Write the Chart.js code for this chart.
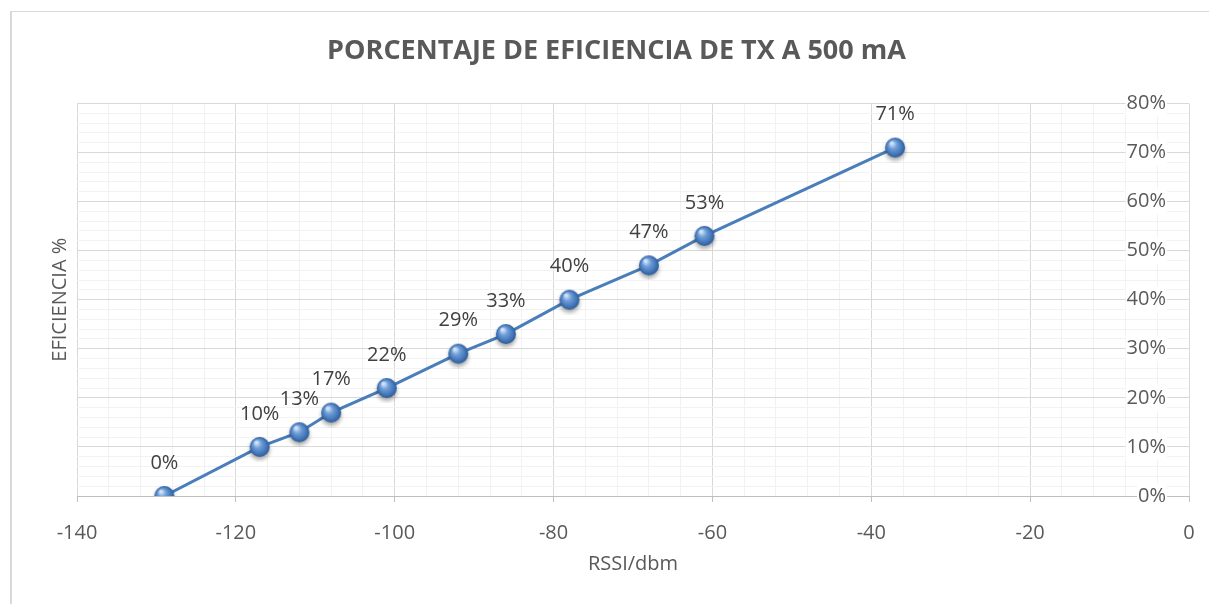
<!DOCTYPE html>
<html>
<head>
<meta charset="utf-8">
<script src="https://cdn.jsdelivr.net/npm/chart.js@4"></script>
<style>
  html, body { margin: 0; padding: 0; background: #fff; overflow: hidden; }
  #frame {
    position: absolute; left: 10px; top: 11px; width: 1300px; height: 700px;
    border-left: 2px solid #d9d9d9; border-top: 1px solid #d9d9d9;
  }
  #chart { position: absolute; left: 0; top: 0; }
</style>
</head>
<body>
<div id="frame"></div>
<canvas id="chart" width="1238" height="604"></canvas>
<script>
// data
const rssi = [-129, -117, -112, -108, -101, -92, -86, -78, -68, -61, -37];
const eficiencia = [0, 10, 13, 17, 22, 29, 33, 40, 47, 53, 71];
const xMajor = [-140, -120, -100, -80, -60, -40, -20, 0];
const yMajor = [0, 10, 20, 30, 40, 50, 60, 70, 80];

const GRAY = "#595959";
const FONT = { family: "'Open Sans', sans-serif", size: 20 };

// shiny blue ball used as the marker
function makeSphere(r) {
    const size = r * 2 + 10;
    const c = document.createElement("canvas");
    c.width = size;
    c.height = size;
    const g = c.getContext("2d");
    const cx = size / 2;
    const cy = size / 2;
    g.save();
    g.shadowColor = "rgba(0,0,0,0.35)";
    g.shadowBlur = 4;
    g.shadowOffsetY = 3;
    const grad = g.createRadialGradient(cx - r * 0.35, cy - r * 0.45, r * 0.1, cx, cy, r);
    grad.addColorStop(0, "#d2e4f8");
    grad.addColorStop(0.35, "#6f9ed8");
    grad.addColorStop(0.8, "#3f72b5");
    grad.addColorStop(1, "#2b5a94");
    g.fillStyle = grad;
    g.beginPath();
    g.arc(cx, cy, r, 0, Math.PI * 2);
    g.fill();
    g.restore();
    return c;
}

const pointLabels = {
    id: "pointLabels",
    afterDatasetsDraw(chart) {
        const { ctx } = chart;
        const meta = chart.getDatasetMeta(0);
        ctx.save();
        ctx.font = "20px 'Open Sans', sans-serif";
        ctx.fillStyle = "#404040";
        ctx.textAlign = "center";
        ctx.textBaseline = "middle";
        meta.data.forEach((pt, i) => {
            ctx.fillText(`${eficiencia[i]}%`, pt.x, pt.y - 33);
        });
        ctx.restore();
    },
};

const isMajorX = (ctx) => ctx.tick && xMajor.includes(ctx.tick.value);
const isMajorY = (ctx) => ctx.tick && yMajor.includes(ctx.tick.value);

function draw() {
    const sphere = makeSphere(10);
    new Chart(document.getElementById("chart"), {
        type: "scatter",
        data: {
            datasets: [
                {
                    data: rssi.map((x, i) => ({ x, y: eficiencia[i] })),
                    showLine: true,
                    borderColor: "#4a7ebb",
                    borderWidth: 3,
                    pointStyle: sphere,
                    pointRadius: 10,
                },
            ],
        },
        options: {
            responsive: false,
            animation: false,
            layout: { padding: { left: 44, right: 49, top: 0, bottom: 24 } },
            plugins: {
                legend: { display: false },
                tooltip: { enabled: false },
                title: {
                    display: true,
                    text: "PORCENTAJE DE EFICIENCIA DE TX A 500 mA",
                    color: GRAY,
                    font: { family: "'Open Sans', sans-serif", size: 27, weight: "bold" },
                    padding: { top: 35, bottom: 36 },
                },
            },
            scales: {
                x: {
                    type: "linear",
                    position: "bottom",
                    min: -140,
                    max: 0,
                    ticks: {
                        stepSize: 4,
                        autoSkip: false,
                        maxRotation: 0,
                        padding: 19,
                        color: GRAY,
                        font: FONT,
                        callback: (v) => (xMajor.includes(v) ? v : ""),
                    },
                    grid: {
                        color: (ctx) => (isMajorX(ctx) ? "#d9d9d9" : "#f2f2f2"),
                        tickColor: (ctx) => (isMajorX(ctx) ? "#bfbfbf" : "rgba(0,0,0,0)"),
                        tickLength: 6,
                    },
                    border: { color: "#bfbfbf" },
                    title: {
                        display: true,
                        text: "RSSI/dbm",
                        color: GRAY,
                        font: FONT,
                        padding: { top: 7, bottom: 4 },
                    },
                    // chart.js counts the tick padding twice in the height
                    afterFit(scale) {
                        scale.height -= scale.options.ticks.padding;
                    },
                },
                y: {
                    type: "linear",
                    position: "right",
                    min: 0,
                    max: 80,
                    ticks: {
                        stepSize: 2,
                        autoSkip: false,
                        mirror: true,
                        padding: -23,
                        color: GRAY,
                        font: FONT,
                        callback: (v) => (yMajor.includes(v) ? `${v}%` : ""),
                        showLabelBackdrop: isMajorY,
                        backdropColor: "#ffffff",
                        backdropPadding: 1,
                    },
                    grid: {
                        color: (ctx) => (isMajorY(ctx) ? "#d9d9d9" : "#f2f2f2"),
                        drawTicks: false,
                    },
                    border: { display: false },
                    afterFit(scale) {
                        scale.width = 0;
                    },
                },
                yTitle: {
                    type: "linear",
                    position: "left",
                    min: 0,
                    max: 80,
                    ticks: { display: false },
                    grid: { display: false, drawTicks: false },
                    border: { display: false },
                    title: {
                        display: true,
                        text: "EFICIENCIA %",
                        color: GRAY,
                        font: FONT,
                        padding: { top: 4, bottom: 5 },
                    },
                },
            },
        },
        plugins: [pointLabels],
    });
}

document.fonts.load("20px 'Open Sans'").then(draw, draw);
</script>
</body>
</html>
